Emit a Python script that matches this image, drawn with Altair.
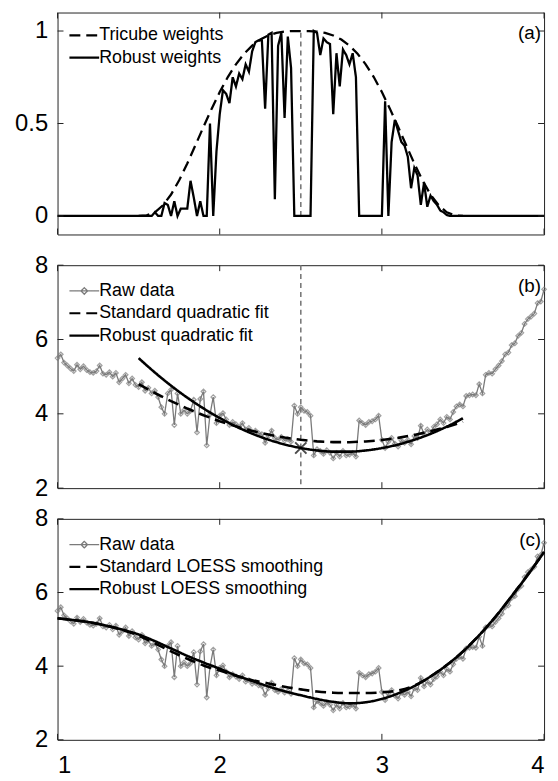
import altair as alt
import pandas as pd

# ---------------- data ----------------
# raw data sampled every 0.02 on [1, 4]
raw_x = [round(1 + 0.02 * i, 2) for i in range(151)]
raw_y = [
    5.50, 5.60, 5.38, 5.30, 5.22, 5.15, 5.32, 5.20, 5.28, 5.18,
    5.12, 5.10, 5.15, 5.30, 5.08, 5.05, 5.12, 5.00, 5.10, 4.85,
    4.95, 5.05, 4.82, 4.95, 4.78, 4.72, 4.85, 4.62, 4.70, 4.55,
    4.62, 4.45, 4.18, 4.00, 4.55, 4.65, 3.70, 4.55, 4.00, 4.10,
    4.00, 4.08, 4.38, 3.50, 4.40, 4.60, 3.15, 3.98, 4.45, 3.75,
    3.95, 4.02, 3.85, 3.70, 3.78, 3.72, 3.65, 3.75, 3.58, 3.62,
    3.52, 3.55, 3.48, 3.45, 3.22, 3.40, 3.55, 3.35, 3.30, 3.38,
    3.28, 3.32, 3.25, 4.22, 4.00, 4.18, 4.08, 4.05, 3.95, 2.88,
    3.05, 3.00, 2.92, 3.02, 2.95, 2.80, 2.95, 2.85, 3.00, 2.88,
    2.90, 2.95, 2.85, 3.82, 3.75, 3.70, 3.78, 3.80, 3.85, 3.95,
    3.30, 3.08, 3.25, 3.35, 3.20, 3.12, 3.28, 3.22, 3.30, 3.18,
    3.40, 3.35, 3.68, 3.45, 3.58, 3.50, 3.65, 3.72, 3.85, 3.75,
    3.92, 3.85, 4.05, 4.20, 4.25, 4.20, 4.48, 4.50, 4.52, 4.50,
    4.80, 4.55, 5.05, 5.10, 5.08, 5.20, 5.30, 5.42, 5.60, 5.65,
    5.85, 5.90, 6.10, 6.18, 6.42, 6.55, 6.62, 6.70, 6.98, 7.02,
    7.35,
]

# robust weights on the same grid (panel a)
robust_w = [
    0, 0, 0, 0, 0, 0, 0, 0, 0, 0,
    0, 0, 0, 0, 0, 0, 0, 0, 0, 0,
    0, 0, 0, 0, 0, 0, 0, 0, 0, 0,
    0.02, 0.0, 0.0, 0.07, 0.06, 0.0, 0.08, 0.0, 0.04, 0.04,
    0.04, 0.19, 0.10, 0.0, 0.08, 0.0, 0.0, 0.50, 0.0, 0.35,
    0.55, 0.68, 0.66, 0.61, 0.75, 0.70, 0.77, 0.74, 0.82, 0.78,
    0.89, 0.94, 0.95, 0.95, 0.58, 0.98, 0.99, 0.09, 0.92, 0.99,
    0.53, 0.97, 0.80, 0.0, 0.0, 0.0, 0.0, 0.0, 0.0, 1.00,
    0.99, 0.87, 0.96, 0.94, 0.93, 0.55, 0.88, 0.70, 0.90, 0.87,
    0.82, 0.88, 0.75, 0.0, 0.0, 0.0, 0.0, 0.0, 0.0, 0.0,
    0.0, 0.62, 0.0, 0.40, 0.52, 0.46, 0.40, 0.38, 0.32, 0.15,
    0.26, 0.22, 0.06, 0.18, 0.05, 0.11, 0.08, 0.06, 0.03, 0.02,
    0.005, 0, 0, 0, 0, 0, 0, 0, 0, 0,
    0, 0, 0, 0, 0, 0, 0, 0, 0, 0,
    0, 0, 0, 0, 0, 0, 0, 0, 0, 0,
    0,
]

# tricube weights (panel a), every 0.05 on [1.5, 3.5]
tri_x = [round(1.5 + 0.05 * i, 2) for i in range(41)]
tri_w = [
    0.000, 0.003, 0.020, 0.058, 0.116, 0.193, 0.284, 0.382, 0.482, 0.579,
    0.670, 0.751, 0.820, 0.877, 0.921, 0.954, 0.976, 0.990, 0.997, 1.000,
    1.000,
    1.000, 0.997, 0.990, 0.976, 0.954, 0.921, 0.877, 0.820, 0.751, 0.670,
    0.579, 0.482, 0.382, 0.284, 0.193, 0.116, 0.058, 0.020, 0.003, 0.000,
]

# local quadratic fits (panel b), every 0.1 on [1.5, 3.5]
fit_x = [round(1.5 + 0.1 * i, 1) for i in range(21)]
std_fit = [4.800, 4.560, 4.342, 4.142, 3.961, 3.802, 3.662, 3.541, 3.441, 3.361,
           3.300, 3.259, 3.239, 3.237, 3.256, 3.294, 3.353, 3.432, 3.530, 3.648, 3.786]
rob_fit = [5.500, 5.113, 4.758, 4.436, 4.146, 3.888, 3.662, 3.468, 3.306, 3.177,
           3.080, 3.015, 2.982, 2.982, 3.014, 3.078, 3.174, 3.302, 3.462, 3.655, 3.880]
center_x = [2.5]
center_y = [3.08]

# LOESS curves (panel c), every 0.1 on [1, 4]
lo_x = [round(1.0 + 0.1 * i, 1) for i in range(31)]
std_lo = [5.30, 5.25, 5.19, 5.10, 4.98, 4.83, 4.62, 4.40, 4.20, 4.02,
          3.88, 3.74, 3.62, 3.53, 3.44, 3.37, 3.31, 3.28, 3.27, 3.27,
          3.29, 3.34, 3.47, 3.72, 4.03, 4.40, 4.84, 5.34, 5.90, 6.48, 7.10]
rob_lo = [5.30, 5.25, 5.19, 5.10, 4.99, 4.86, 4.68, 4.48, 4.28, 4.10,
          3.93, 3.75, 3.60, 3.45, 3.32, 3.21, 3.11, 3.03, 2.99, 3.02,
          3.11, 3.26, 3.46, 3.72, 4.03, 4.40, 4.84, 5.34, 5.90, 6.48, 7.10]

x_ticks = [1, 2, 3, 4]
ya_ticks = [0, 0.5, 1]
ybc_ticks = [2, 4, 6, 8]
panel_labels = ["(a)", "(b)", "(c)"]
legend_a = ["Tricube weights", "Robust weights"]
legend_b = ["Raw data", "Standard quadratic fit", "Robust quadratic fit"]
legend_c = ["Raw data", "Standard LOESS smoothing", "Robust LOESS smoothing"]

# ---------------- styling ----------------
W = 491
HA, HB, HC = 224, 225, 223
FONT = "Liberation Sans"
GRAY = "#7a7a7a"
DASH = [11, 6]
SOLID = [1, 0]
AX = "#222222"
TICK = 6

xscale = alt.Scale(domain=[1, 4], nice=False, zero=False)
ya_scale = alt.Scale(domain=[-0.1, 1.1], nice=False, zero=False)
ybc_scale = alt.Scale(domain=[2, 8], nice=False, zero=False)

yaxis_a = alt.Axis(values=ya_ticks, format="~g", ticks=False, domain=False, grid=False,
                   title=None, labelFont=FONT, labelFontSize=24, labelColor="black",
                   labelPadding=10)
yaxis_bc = alt.Axis(values=ybc_ticks, format="~g", ticks=False, domain=False, grid=False,
                    title=None, labelFont=FONT, labelFontSize=24, labelColor="black",
                    labelPadding=10)
xaxis_c = alt.Axis(values=x_ticks, format="~g", ticks=False, domain=False, grid=False,
                   title=None, labelFont=FONT, labelFontSize=24, labelColor="black",
                   labelPadding=14)


def X(field, axis):
    return alt.X(field, type="quantitative", scale=xscale, axis=axis)


def Y(field, scale, axis):
    return alt.Y(field, type="quantitative", scale=scale, axis=axis)


def tick_layers(h, yscale, yaxis, xaxis, yt):
    xdf = pd.DataFrame({"x": x_ticks})
    ydf = pd.DataFrame({"y": yt})
    rp = dict(color=AX, strokeWidth=1)
    return [
        alt.Chart(xdf).mark_rule(**rp).encode(x=X("x", xaxis), y=alt.value(h), y2=alt.value(h - TICK)),
        alt.Chart(xdf).mark_rule(**rp).encode(x=X("x", xaxis), y=alt.value(0), y2=alt.value(TICK)),
        alt.Chart(ydf).mark_rule(**rp).encode(y=Y("y", yscale, yaxis), x=alt.value(0), x2=alt.value(TICK)),
        alt.Chart(ydf).mark_rule(**rp).encode(y=Y("y", yscale, yaxis), x=alt.value(W), x2=alt.value(W - TICK)),
    ]


RAW_SHAPE = alt.ExprRef(expr="datum.value === 'Raw data' ? 'M-1,0L1,0M-0.22,0L0,-0.22L0.22,0L0,0.22Z' : 'stroke'")
RAW_SW = alt.ExprRef(expr="datum.value === 'Raw data' ? 1.3 : 2.2")


def make_legend(ly):
    return alt.Legend(title=None, orient="none", legendX=18, legendY=ly,
                      symbolType=RAW_SHAPE, symbolSize=900, symbolStrokeWidth=RAW_SW,
                      labelFont=FONT, labelFontSize=18, labelLimit=400,
                      labelColor="black", labelOffset=6, rowPadding=4.5, padding=0)


def label_layer(text):
    return alt.Chart(pd.DataFrame({"t": [text]})).mark_text(
        align="right", baseline="middle", font=FONT, fontSize=19, color="black"
    ).encode(text="t:N", x=alt.value(W - 3), y=alt.value(21))


# ---------------- panel (a) ----------------
leg_a = make_legend(14)
col_a = alt.Color("s:N", scale=alt.Scale(domain=legend_a, range=["black", "black"]), legend=leg_a)
dash_a = alt.StrokeDash("s:N", scale=alt.Scale(domain=legend_a, range=[DASH, SOLID]), legend=leg_a)

wdf = pd.DataFrame({"x": raw_x, "w": robust_w, "s": legend_a[1]})
tdf = pd.DataFrame({"x": tri_x, "w": tri_w, "s": legend_a[0]})
vline_a = pd.DataFrame({"x": center_x, "y0": [0], "y1": [1]})

a_layers = [
    alt.Chart(vline_a).mark_rule(color=GRAY, strokeWidth=1.6, strokeDash=[5, 4]).encode(
        x=X("x", None), y=Y("y0", ya_scale, yaxis_a), y2="y1"),
    alt.Chart(wdf).mark_line(strokeWidth=2.3).encode(
        x=X("x", None), y=Y("w", ya_scale, yaxis_a), color=col_a, strokeDash=dash_a),
    alt.Chart(tdf).mark_line(strokeWidth=2.3).encode(
        x=X("x", None), y=Y("w", ya_scale, yaxis_a), color=col_a, strokeDash=dash_a),
] + tick_layers(HA, ya_scale, yaxis_a, None, ya_ticks) + [label_layer(panel_labels[0])]
panel_a = alt.layer(*a_layers).properties(width=W, height=HA)

# ---------------- panel (b) ----------------
leg_b = make_legend(17)
col_b = alt.Color("s:N", scale=alt.Scale(domain=legend_b, range=[GRAY, "black", "black"]), legend=leg_b)
dash_b = alt.StrokeDash("s:N", scale=alt.Scale(domain=legend_b, range=[SOLID, DASH, SOLID]), legend=leg_b)

rawb = pd.DataFrame({"x": raw_x, "y": raw_y, "s": legend_b[0]})
stdb = pd.DataFrame({"x": fit_x, "y": std_fit, "s": legend_b[1]})
robb = pd.DataFrame({"x": fit_x, "y": rob_fit, "s": legend_b[2]})
cen = pd.DataFrame({"x": center_x, "y": center_y})

b_layers = [
    alt.Chart(cen).mark_rule(color=GRAY, strokeWidth=1.6, strokeDash=[5, 4]).encode(x=X("x", None)),
    alt.Chart(rawb).mark_line(strokeWidth=1.3).encode(
        x=X("x", None), y=Y("y", ybc_scale, yaxis_bc), color=col_b, strokeDash=dash_b),
    alt.Chart(rawb).mark_point(shape="diamond", size=22, filled=False, color=GRAY, strokeWidth=1.2).encode(
        x=X("x", None), y=Y("y", ybc_scale, yaxis_bc)),
    alt.Chart(stdb).mark_line(strokeWidth=2.6).encode(
        x=X("x", None), y=Y("y", ybc_scale, yaxis_bc), color=col_b, strokeDash=dash_b),
    alt.Chart(robb).mark_line(strokeWidth=2.6, interpolate="monotone").encode(
        x=X("x", None), y=Y("y", ybc_scale, yaxis_bc), color=col_b, strokeDash=dash_b),
    alt.Chart(cen).mark_point(shape="M-1,-1L1,1M-1,1L1,-1", size=130, color="black", strokeWidth=2).encode(
        x=X("x", None), y=Y("y", ybc_scale, yaxis_bc)),
] + tick_layers(HB, ybc_scale, yaxis_bc, None, ybc_ticks) + [label_layer(panel_labels[1])]
panel_b = alt.layer(*b_layers).properties(width=W, height=HB)

# ---------------- panel (c) ----------------
leg_c = make_legend(17)
col_c = alt.Color("s:N", scale=alt.Scale(domain=legend_c, range=[GRAY, "black", "black"]), legend=leg_c)
dash_c = alt.StrokeDash("s:N", scale=alt.Scale(domain=legend_c, range=[SOLID, DASH, SOLID]), legend=leg_c)

rawc = pd.DataFrame({"x": raw_x, "y": raw_y, "s": legend_c[0]})
stdc = pd.DataFrame({"x": lo_x, "y": std_lo, "s": legend_c[1]})
robc = pd.DataFrame({"x": lo_x, "y": rob_lo, "s": legend_c[2]})

c_layers = [
    alt.Chart(rawc).mark_line(strokeWidth=1.3).encode(
        x=X("x", xaxis_c), y=Y("y", ybc_scale, yaxis_bc), color=col_c, strokeDash=dash_c),
    alt.Chart(rawc).mark_point(shape="diamond", size=22, filled=False, color=GRAY, strokeWidth=1.2).encode(
        x=X("x", xaxis_c), y=Y("y", ybc_scale, yaxis_bc)),
    alt.Chart(stdc).mark_line(strokeWidth=2.6, interpolate="monotone").encode(
        x=X("x", xaxis_c), y=Y("y", ybc_scale, yaxis_bc), color=col_c, strokeDash=dash_c),
    alt.Chart(robc).mark_line(strokeWidth=2.6, interpolate="monotone").encode(
        x=X("x", xaxis_c), y=Y("y", ybc_scale, yaxis_bc), color=col_c, strokeDash=dash_c),
] + tick_layers(HC, ybc_scale, yaxis_bc, xaxis_c, ybc_ticks) + [label_layer(panel_labels[2])]
panel_c = alt.layer(*c_layers).properties(width=W, height=HC)

chart = alt.vconcat(panel_a, panel_b, panel_c, spacing=31, bounds="flush").resolve_scale(
    color="independent", strokeDash="independent"
).configure_view(stroke=AX, strokeWidth=1).properties(
    padding={"left": 6, "top": 0, "right": 0, "bottom": 0}, background="white"
)

chart.save("out.html", embed_options={"renderer": "svg", "actions": False})
